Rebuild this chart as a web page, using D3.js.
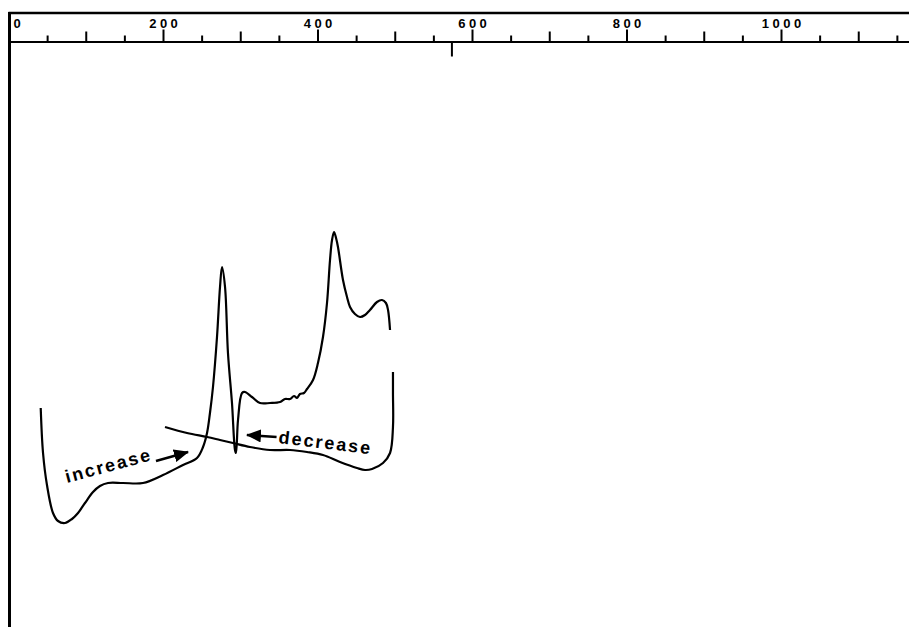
<!DOCTYPE html>
<html lang="en">
<head>
    <meta charset="UTF-8">
    <script src="https://d3js.org/d3.v7.min.js"></script>
    <title>Increase / decrease spectra</title>
    <style>
        body { margin:0; background:#fff; }
        .curve { fill:none; stroke:#000; stroke-width:2.2; stroke-linejoin:round; }
        .axis path, .axis line { stroke:#000; stroke-width:2; }
        .axis text { font-family:"Liberation Sans", Arial, sans-serif; font-weight:bold; font-size:13px; letter-spacing:3.5px; fill:#000; }
        .note { font-family:"Liberation Sans", Arial, sans-serif; font-weight:bold; font-size:18px; letter-spacing:2px; fill:#000; }
    </style>
</head>
<body>
<script>
    // top axis ticks
    var majorTicks = [0, 200, 400, 600, 800, 1000];
    var midTicks = [100, 300, 500, 700, 900, 1100];
    var minorTicks = [50, 150, 250, 350, 450, 550, 650, 750, 850, 950, 1050, 1150];
    var markTicks = [574];

    // "increase" trace (x in axis units, y arbitrary intensity)
    var incX = [41.7, 44.7, 49.8, 57.6, 64.1, 73.1, 82.2, 90, 99, 109.4, 118.4, 128.8, 148.2, 174.1, 200, 225.9, 244, 251.8, 257, 260.8, 264.7, 269.9, 273.8, 276.4, 280.3, 284.1, 289.3, 293.2, 294.5, 297.1, 302.3, 306.1, 315.2, 325.6, 338.5, 351.5, 357.9, 364.4, 369.6, 373.5, 377.3, 382.5, 386.4, 394.2, 400.6, 407.1, 412.3, 416.2, 418.8, 421.4, 424, 426.5, 433, 438.2, 442.1, 448.5, 455, 461.5, 467.9, 477, 483.5, 488.6, 491.3, 493.9];
    var incY = [30.4, 21.4, 15, 9.4, 7.8, 7.4, 8.2, 9.4, 11.4, 13.6, 14.8, 15.4, 15.4, 15.4, 17, 19, 20.4, 22.6, 25.4, 29.4, 34.6, 44.6, 54.6, 58.6, 54.6, 41.4, 31.4, 22, 21.4, 28, 33.4, 33.6, 32.6, 31.4, 31.4, 31.6, 32.2, 32.2, 32.8, 32.4, 33.2, 33.4, 34.2, 36, 39.4, 44.6, 51.4, 60, 64, 65.6, 64.4, 62.6, 56, 52.6, 50.6, 49.2, 48.6, 49, 50, 51.6, 52, 51.4, 50, 46];

    // "decrease" trace
    var decX = [202.6, 231.1, 257, 273.8, 290.6, 312.6, 338.5, 364.4, 386.4, 407.1, 429.1, 451.1, 461.5, 470.6, 484.8, 493.9, 497.7, 497.7, 497.7];
    var decY = [26.6, 25.4, 24.6, 24, 23.4, 22.6, 22, 22, 21.6, 21, 19.6, 18.4, 18, 18.2, 19.4, 21.4, 26.6, 33.4, 37.6];

    // labels and arrows
    var noteText = ["increase", "decrease"];
    var notePos = [[75.7, 15.4], [349, 23.4]];
    var noteAngle = [-15, 7];
    var arrowFrom = [[190.9, 19.8], [347, 24.6]];
    var arrowTo = [[232.4, 21.6], [308.7, 25]];

    var width = 909, height = 627, axisY = 41.5;
    var xscale = d3.scaleLinear().domain([0,1200]).range([8.5,935.5]);
    var yscale = d3.scaleLinear().domain([0,100]).range([560,60]);

    var svg = d3.select("body").append("svg").attr("width",width).attr("height",height);

    var defs = svg.append("defs");
    defs.append("marker").attr("id","head").attr("markerUnits","userSpaceOnUse")
        .attr("markerWidth",15).attr("markerHeight",13).attr("refX",14).attr("refY",6.5)
        .attr("orient","auto")
        .append("path").attr("d","M0,0 L15,6.5 L0,13 Z").attr("fill","#000");

    // frame: top border and left border
    svg.append("line").attr("x1",xscale(0)).attr("x2",width).attr("y1",13).attr("y2",13)
        .attr("stroke","#000").attr("stroke-width",2.5);
    svg.append("line").attr("x1",xscale(0)+1).attr("x2",xscale(0)+1).attr("y1",12).attr("y2",height)
        .attr("stroke","#000").attr("stroke-width",3);

    // axis with three tick lengths
    svg.append("g").attr("class","axis").attr("transform","translate(0,"+axisY+")")
        .call(d3.axisTop(xscale).tickValues(minorTicks).tickSize(6).tickSizeOuter(0).tickFormat(""));
    svg.append("g").attr("class","axis").attr("transform","translate(0,"+axisY+")")
        .call(d3.axisTop(xscale).tickValues(midTicks).tickSize(10).tickSizeOuter(0).tickFormat(""))
        .select(".domain").remove();
    var major = svg.append("g").attr("class","axis").attr("transform","translate(0,"+axisY+")")
        .call(d3.axisTop(xscale).tickValues(majorTicks).tickSize(12).tickPadding(1.5).tickSizeOuter(0).tickFormat(d3.format("d")));
    major.select(".domain").remove();
    major.selectAll(".tick text").attr("dx",1.75);
    major.selectAll(".tick").filter(d => d === 0).each(function() {
        d3.select(this).select("line").remove();
        d3.select(this).select("text").attr("text-anchor","start").attr("dx",4.5);
    });

    // little mark below the axis
    svg.selectAll(".mark").data(markTicks).enter().append("line")
        .attr("x1",d => xscale(d)).attr("x2",d => xscale(d))
        .attr("y1",axisY).attr("y2",axisY+15)
        .attr("stroke","#000").attr("stroke-width",2);

    // traces
    var line = d3.line().x(d => xscale(d[0])).y(d => yscale(d[1])).curve(d3.curveCatmullRom.alpha(0.5));
    svg.append("path").attr("class","curve").attr("d",line(d3.zip(incX, incY)));
    svg.append("path").attr("class","curve").attr("d",line(d3.zip(decX, decY)));

    // annotations
    noteText.forEach(function(t, i) {
        var px = xscale(notePos[i][0]), py = yscale(notePos[i][1]);
        svg.append("text").attr("class","note")
            .attr("transform","translate("+px+","+py+") rotate("+noteAngle[i]+")")
            .text(t);
        svg.append("line")
            .attr("x1",xscale(arrowFrom[i][0])).attr("y1",yscale(arrowFrom[i][1]))
            .attr("x2",xscale(arrowTo[i][0])).attr("y2",yscale(arrowTo[i][1]))
            .attr("stroke","#000").attr("stroke-width",2.5).attr("marker-end","url(#head)");
    });
</script>
</body>
</html>
